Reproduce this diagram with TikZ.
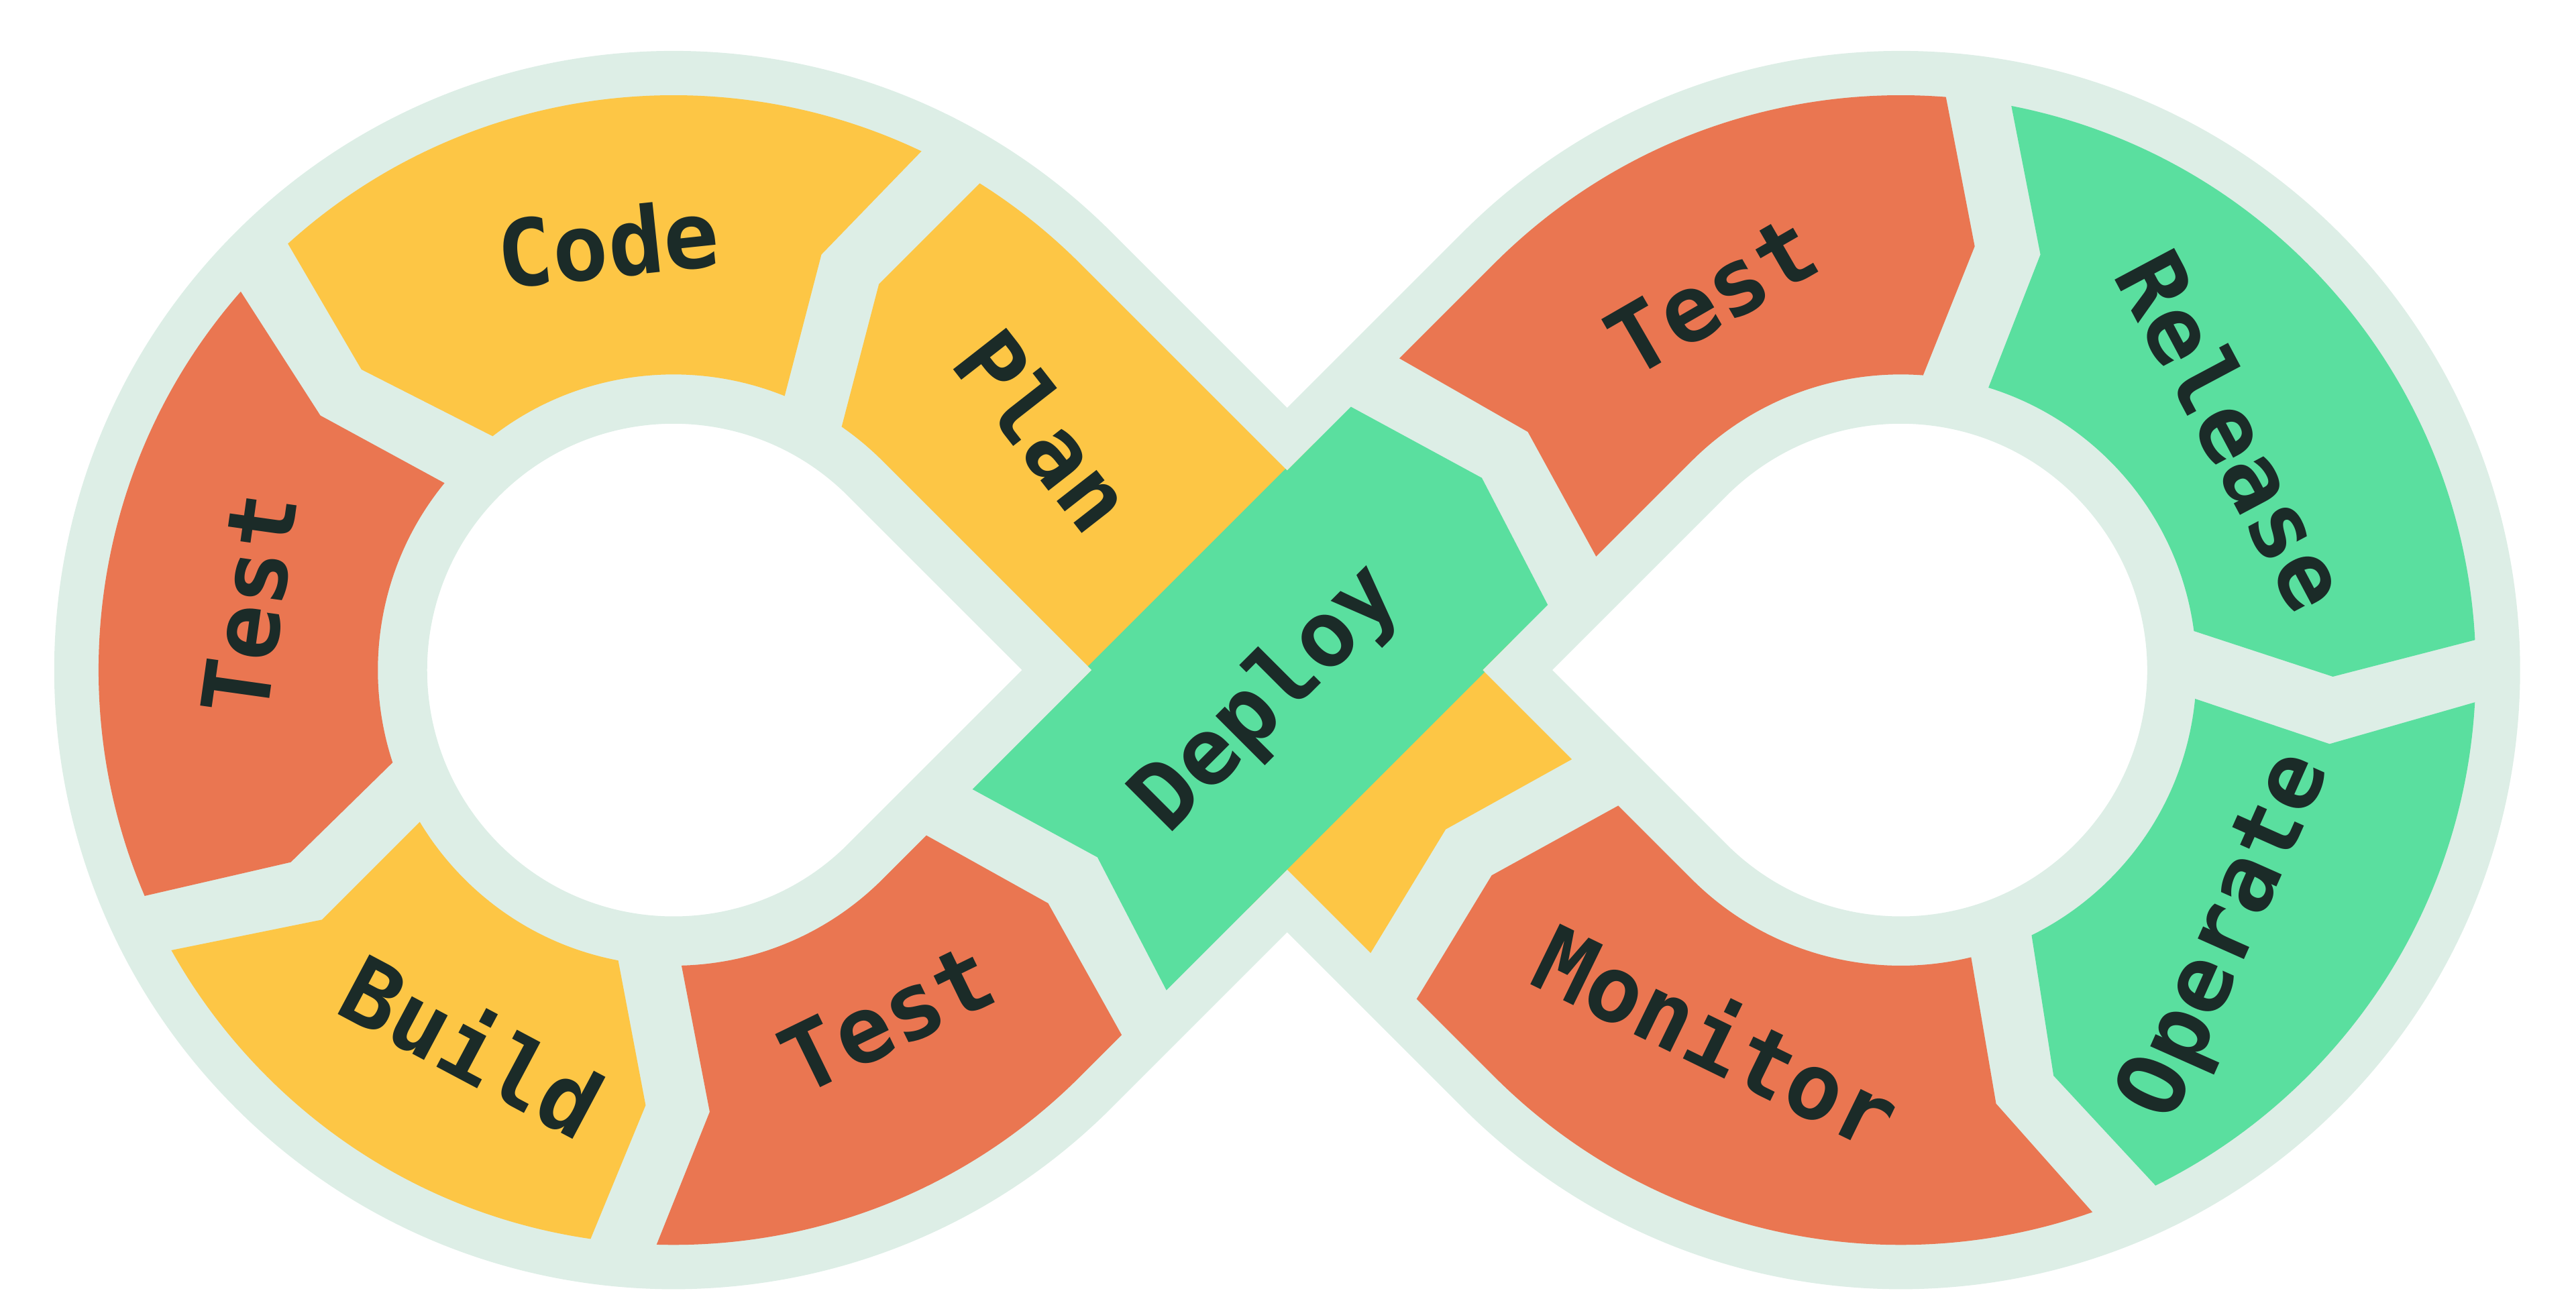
\documentclass[tikz,border=0pt]{standalone}
\usepackage{fontspec}
\newfontfamily\labelfont{DejaVu Sans Mono Bold}
\usetikzlibrary{calc}
\definecolor{bgband}{HTML}{DDEEE6}
\definecolor{segyellow}{HTML}{FDC645}
\definecolor{segred}{HTML}{EA7651}
\definecolor{seggreen}{HTML}{5ADF9F}
\definecolor{txt}{HTML}{1B2B28}
\newcommand\eightshape[2]{%
 ({410+#1*0.70711},{408-#1*0.70711}) -- (783.5,{781.5-2*#1*0.70711}) -- ({1157-#1*0.70711},{408-#1*0.70711})
 arc[start angle=225,end angle=495,radius=#1] -- (783.5,{34.5+2*#1*0.70711}) -- ({410+#1*0.70711},{408+#1*0.70711})
 arc[start angle=45,end angle=315,radius=#1] -- cycle
 ({410+#2*0.70711},{408-#2*0.70711}) -- ({410+1.41421*#2},408) -- ({410+#2*0.70711},{408+#2*0.70711})
 arc[start angle=45,end angle=315,radius=#2] -- cycle
 ({1157-#2*0.70711},{408+#2*0.70711}) -- ({1157-1.41421*#2},408) -- ({1157-#2*0.70711},{408-#2*0.70711})
 arc[start angle=225,end angle=495,radius=#2] -- cycle}
\tikzset{lbl/.style={text=txt,font=\labelfont\fontsize{16}{16}\selectfont,inner sep=0pt}}
\begin{document}
\begin{tikzpicture}[x=0.01cm,y=-0.01cm]
\useasboundingbox (0,0) rectangle (1568,792);
\fill[bgband,even odd rule] \eightshape{377}{150};
\begin{scope}[even odd rule]
\clip \eightshape{350}{180};
% Code
\fill[segyellow] (154,112) -- (220,225) -- (340,286) -- (410,408) -- (467,282) -- (500,155) -- (590,62) -- (500,-100) -- (100,0) -- cycle;
% Test left
\fill[segred] (125,144) -- (195,253) -- (307,314) -- (410,408) -- (272,432) -- (177,525) -- (47,555) -- (-100,650) -- (-100,150) -- cycle;
% Build
\fill[segyellow] (63,587) -- (196,560) -- (286,470) -- (410,408) -- (368,541) -- (393,673) -- (344,792) -- (300,950) -- (-50,700) -- cycle;
% Test bottom
\fill[segred] (384,797) -- (432,677) -- (406,542) -- (560,420) -- (525,487) -- (638,550) -- (705,670) -- (600,850) -- cycle;
% Test right
\fill[segred] (813,196) -- (930,263) -- (993,378) -- (1157,408) -- (1154,270) -- (1202,150) -- (1176,15) -- (1100,-50) -- (750,150) -- cycle;
% Release
\fill[seggreen] (1216,22) -- (1242,155) -- (1194,278) -- (1157,408) -- (1292,370) -- (1420,412) -- (1548,379) -- (1700,300) -- (1500,-100) -- (1230,-100) -- cycle;
% Operate
\fill[seggreen] (1157,408) -- (1293,411) -- (1418,453) -- (1547,416) -- (1700,450) -- (1600,900) -- (1350,900) -- (1340,752) -- (1250,655) -- (1230,527) -- cycle;
% Monitor
\fill[segred] (1157,408) -- (1026,468) -- (908,533) -- (840,645) -- (800,800) -- (1100,950) -- (1302,770) -- (1215,672) -- (1192,537) -- cycle;
% Plan
\fill[segyellow] (700,170) -- (1000,470) -- (997,440) -- (880,505) -- (812,617) -- (640,408) -- (500,307) -- (535,173) -- (626,82) -- cycle;
% Deploy
\fill[seggreen] (589,479) -- (668,522) -- (710,603) -- (943,370) -- (902,291) -- (821,247) -- cycle;
\end{scope}
\begin{scope}[y=0.01cm]
\node[lbl,rotate=6] (code) at (370,-148) {Code};
\node[lbl,rotate=-52] (plan) at (636,-262) {Plan};
\node[lbl,rotate=82] (test1) at (152,-368) {Test};
\node[lbl,rotate=-28] (build) at (288,-636) {Build};
\node[lbl,rotate=26] (test2) at (540,-620) {Test};
\node[lbl,rotate=45] (deploy) at (772,-426) {Deploy};
\node[lbl,rotate=30] (test3) at (1042,-180) {Test};
\node[lbl,rotate=-62] (release) at (1360,-262) {Release};
\node[lbl,rotate=66] (operate) at (1356,-570) {Operate};
\node[lbl,rotate=-26] (monitor) at (1046,-630) {Monitor};
\end{scope}
\end{tikzpicture}
\end{document}
